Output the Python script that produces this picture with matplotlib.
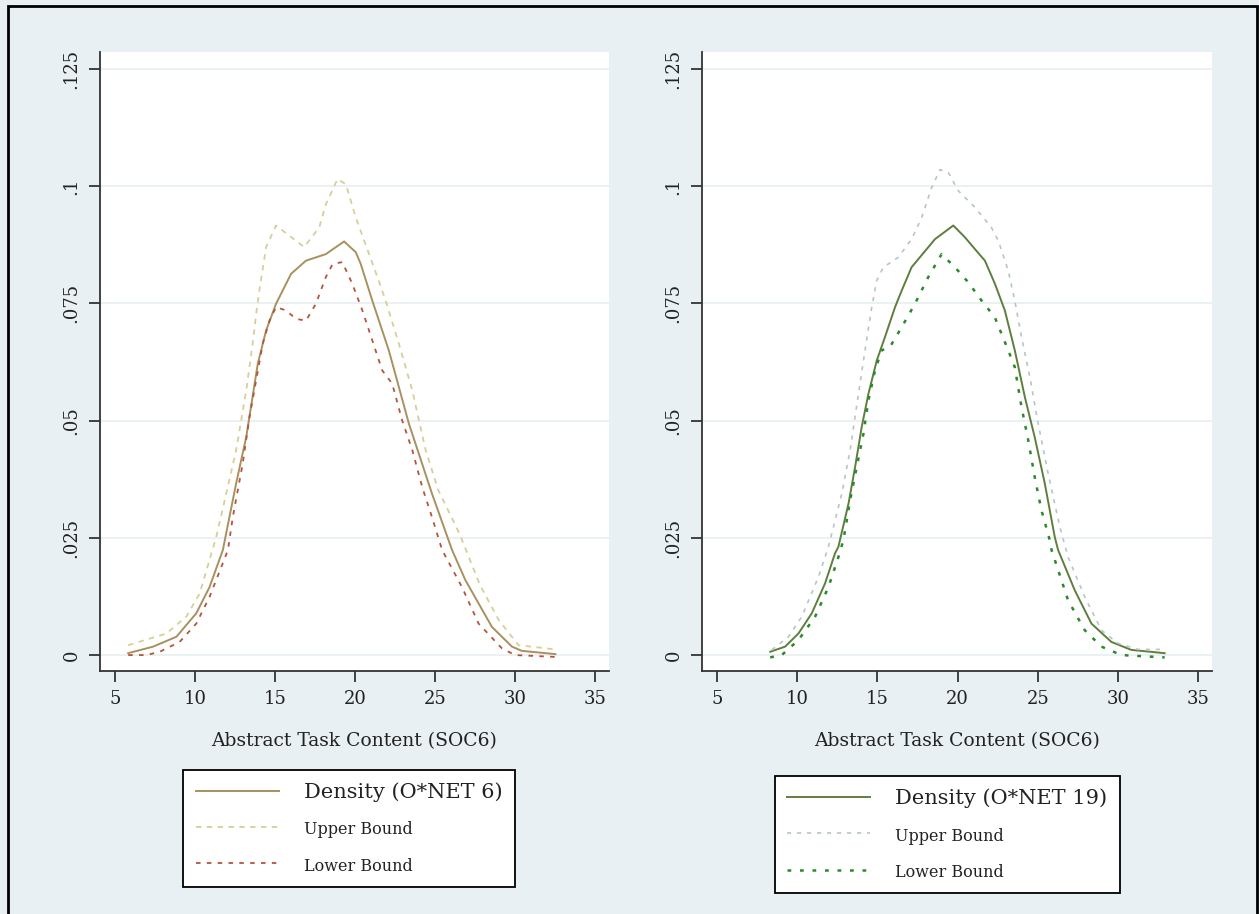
import matplotlib
matplotlib.use("Agg")
import matplotlib.pyplot as plt
from matplotlib.patches import Rectangle

# O*NET 6 panel
x6_dens = [5.83, 7.39, 8.84, 10.08, 10.91, 11.74, 12.57, 13.2, 13.92, 14.44, 15.06, 16.0, 16.93,
           18.17, 19.31, 20.04, 20.35, 21.07, 22.1, 23.36, 24.8, 26.05, 26.88, 28.54, 29.79, 30.4, 32.5]
y6_dens = [0.0004, 0.0018, 0.0039, 0.0089, 0.0145, 0.0224, 0.0366, 0.0465, 0.0621, 0.0692, 0.0749, 0.0813, 0.0841,
           0.0855, 0.0882, 0.0859, 0.0834, 0.0756, 0.065, 0.0493, 0.0344, 0.0224, 0.016, 0.006, 0.0018, 0.0009, 0.0002]

x6_up = [5.83, 8.22, 9.46, 10.29, 11.33, 11.95, 12.57, 13.2, 13.6, 13.82, 14.02, 14.44, 15.06, 16.82, 17.76,
         18.17, 18.9, 19.42, 20.04, 20.87, 21.39, 21.9, 22.73, 23.57, 24.4, 25.2, 26.5, 27.8, 28.96, 30.2, 32.5]
y6_up = [0.0021, 0.0046, 0.0082, 0.0131, 0.0252, 0.0344, 0.0437, 0.0564, 0.0664, 0.0728, 0.0777, 0.087, 0.0916, 0.087, 0.0912,
         0.0961, 0.1015, 0.1004, 0.0933, 0.0855, 0.0806, 0.0756, 0.0664, 0.0564, 0.0437, 0.0351, 0.026, 0.0149, 0.0075, 0.0021, 0.0012]

x6_lo = [5.83, 6.97, 7.8, 9.04, 10.08, 10.91, 12.06, 12.36, 12.98, 13.4, 13.82, 14.23, 14.65, 15.06, 15.68, 16.3,
         16.93, 17.55, 18.17, 18.6, 19.2, 19.83, 20.45, 21.07, 21.69, 22.31, 22.94, 23.57, 24.19, 24.8, 25.43,
         26.67, 27.71, 29.17, 29.99, 32.5]
y6_lo = [0.0, 0.0, 0.0007, 0.0028, 0.0067, 0.0124, 0.0224, 0.0294, 0.0408, 0.0507, 0.0586, 0.0664, 0.0713, 0.0742, 0.0735, 0.0717,
         0.0713, 0.0749, 0.0806, 0.0834, 0.0838, 0.0791, 0.0735, 0.0671, 0.0607, 0.0579, 0.05, 0.0437, 0.0358, 0.0294, 0.0224,
         0.0145, 0.0067, 0.0014, 0.0, -0.0004]

# O*NET 19 panel
x19_dens = [8.32, 9.25, 10.08, 10.91, 11.74, 12.36, 12.57, 13.2, 13.61, 14.02, 14.44, 14.96, 15.47, 16.1, 16.51, 17.13,
            18.59, 19.73, 20.45, 21.07, 21.7, 22.32, 22.94, 23.56, 24.19, 24.8, 25.43, 26.05, 26.26, 27.3, 28.34,
            29.58, 30.82, 32.9]
y19_dens = [0.0007, 0.0018, 0.0046, 0.0089, 0.0153, 0.0217, 0.0231, 0.0323, 0.0401, 0.0486, 0.0557, 0.0628, 0.0678, 0.0742, 0.0777, 0.0827,
            0.0887, 0.0916, 0.0891, 0.0866, 0.0841, 0.0792, 0.0735, 0.065, 0.055, 0.0465, 0.0366, 0.0252, 0.0224, 0.0138, 0.0067,
            0.0028, 0.0011, 0.0004]

x19_up = [8.42, 9.46, 10.29, 11.33, 11.95, 12.78, 13.3, 13.82, 14.23, 14.65, 14.96, 15.37, 16.3, 17.13, 17.76, 18.38,
          18.9, 19.42, 20.04, 21.07, 22.1, 22.53, 23.15, 23.56, 23.98, 24.5, 25.02, 25.64, 26.37, 26.88, 27.92,
          28.96, 30.0, 31.24, 32.9]
y19_up = [0.0011, 0.0039, 0.0082, 0.0167, 0.0231, 0.0344, 0.0437, 0.0557, 0.065, 0.0742, 0.0799, 0.0827, 0.0848, 0.0887, 0.0933, 0.0997,
          0.1035, 0.1029, 0.099, 0.0955, 0.0912, 0.0884, 0.082, 0.0756, 0.0678, 0.0593, 0.0493, 0.0387, 0.0273, 0.0209, 0.0124,
          0.0053, 0.0025, 0.0012, 0.0012]

x19_lo = [8.32, 9.04, 10.08, 11.12, 11.95, 12.57, 12.88, 13.3, 13.71, 14.13, 14.44, 14.85, 15.27, 15.78, 16.51, 17.34,
          18.17, 19.0, 19.83, 20.66, 21.49, 22.32, 23.15, 23.56, 23.98, 24.4, 24.8, 25.22, 25.74, 25.85, 26.88,
          27.92, 28.96, 30.2, 32.9]
y19_lo = [-0.0005, 0.0, 0.0032, 0.0082, 0.0145, 0.0209, 0.0245, 0.033, 0.0401, 0.0472, 0.0543, 0.0607, 0.065, 0.0657, 0.0699, 0.0749,
          0.0806, 0.0855, 0.0827, 0.0795, 0.0756, 0.072, 0.065, 0.0614, 0.0529, 0.0458, 0.038, 0.0309, 0.0245, 0.0224, 0.0117,
          0.0053, 0.0018, 0.0, -0.0005]

xticks = [5, 10, 15, 20, 25, 30, 35]
yticks = [0, 0.025, 0.05, 0.075, 0.1, 0.125]
ylabels = ["0", ".025", ".05", ".075", ".1", ".125"]

plt.rcParams["font.family"] = "DejaVu Serif"
bg = "#e8f0f3"

fig = plt.figure(figsize=(12.59, 9.14), dpi=100, facecolor=bg)
ax1 = fig.add_axes([100 / 1259, 1 - 671 / 914, 509 / 1259, 619 / 914])
ax2 = fig.add_axes([702 / 1259, 1 - 671 / 914, 510 / 1259, 619 / 914])

ax1.plot(x6_dens, y6_dens, color="#a8915e", lw=1.4, label="Density (O*NET 6)")
ax1.plot(x6_up, y6_up, color="#d6cf98", lw=1.3, dashes=(3, 3), label="Upper Bound")
ax1.plot(x6_lo, y6_lo, color="#b5543a", lw=1.3, dashes=(2.5, 3.5), label="Lower Bound")

ax2.plot(x19_dens, y19_dens, color="#5e7e3e", lw=1.4, label="Density (O*NET 19)")
ax2.plot(x19_up, y19_up, color="#b6c6c6", lw=1.2, dashes=(2.5, 3.5), label="Upper Bound")
ax2.plot(x19_lo, y19_lo, color="#2a8a2a", lw=1.8, dashes=(1.5, 3.5), label="Lower Bound")

anchors = [(0.49, -0.143), (0.481, -0.153)]
for ax, anc in zip([ax1, ax2], anchors):
    ax.set_xlim(4.07, 35.85)
    ax.set_ylim(-0.0034, 0.1286)
    ax.set_facecolor("white")
    ax.set_xticks(xticks)
    ax.set_yticks(yticks)
    ax.set_yticklabels(ylabels, rotation=90, va="center")
    ax.grid(axis="y", color="#e6eff1", lw=1.2)
    ax.set_axisbelow(True)
    for s in ["top", "right"]:
        ax.spines[s].set_visible(False)
    for s in ["left", "bottom"]:
        ax.spines[s].set_color("#333333")
        ax.spines[s].set_linewidth(1.3)
    ax.tick_params(length=8, width=1.3, labelsize=13, colors="#333333", labelcolor="#222222", pad=6)
    ax.set_xlabel("Abstract Task Content (SOC6)", fontsize=13.5, labelpad=17, color="#222222")
    leg = ax.legend(loc="upper center", bbox_to_anchor=anc, fancybox=False, frameon=True,
                    edgecolor="black", facecolor="white", framealpha=1, fontsize=15,
                    handlelength=4.0, handletextpad=1.2, labelspacing=0.85, borderpad=0.6)
    leg.get_frame().set_linewidth(1.3)
    for t in leg.get_texts()[1:]:
        t.set_fontsize(11.5)
    for t in leg.get_texts():
        t.set_color("#222222")

fig.patches.append(Rectangle((8 / 1259, -0.02), 1249 / 1259, 1.02 - 6 / 914, transform=fig.transFigure,
                             fill=False, edgecolor="black", lw=2, clip_on=False))

fig.savefig("out.png", dpi=100, facecolor=bg)
